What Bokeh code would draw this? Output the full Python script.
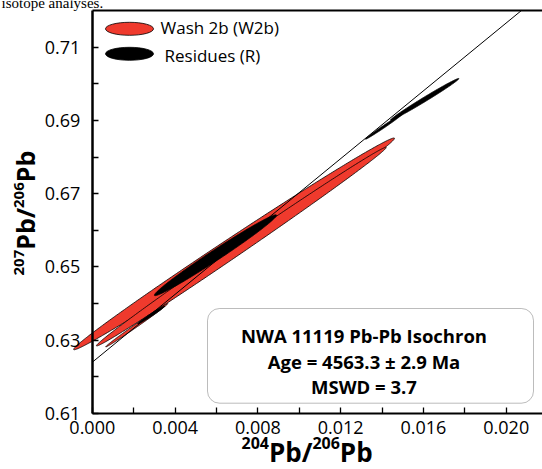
import numpy as np
from bokeh.plotting import figure
from bokeh.models import (LinearAxis, FixedTicker, PrintfTickFormatter, Label,
                          BoxAnnotation, Range1d)
from bokeh.embed import file_html
from bokeh.resources import INLINE

# ---------------- data ----------------
x_ticks = [0.000, 0.004, 0.008, 0.012, 0.016, 0.020]
x_minor = [0.002, 0.006, 0.010, 0.014, 0.018]
y_ticks = [0.61, 0.63, 0.65, 0.67, 0.69, 0.71]
y_minor = [0.62, 0.64, 0.66, 0.68, 0.70]
x_axis_min, y_axis_min, y_axis_max = 0.0, 0.61, 0.72

# Wash 2b (W2b) error ellipses: centre, sigma x, sigma y, correlation
wash_x0 = [0.00685, 0.00720, 0.00215]
wash_y0 = [0.6563, 0.65555, 0.6341]
wash_sx = [0.00775, 0.00700, 0.00150]
wash_sy = [0.02890, 0.02711, 0.00592]
wash_rho = [0.99654, 0.99779, 0.9964]

# Residues (R) error ellipses
res_x0 = [0.00595, 0.00600, 0.00285, 0.01410, 0.01606]
res_y0 = [0.6532, 0.65325, 0.6369, 0.68835, 0.69575]
res_sx = [0.00295, 0.00250, 0.00065, 0.00090, 0.00165]
res_sy = [0.01103, 0.009276, 0.002433, 0.003473, 0.005693]
res_rho = [0.98804, 0.99716, 0.9864, 0.9934, 0.9924]

# isochron fit
iso_intercept = 0.624
iso_slope = 4.63

legend_names = ["Wash 2b (W2b)", "Residues (R)"]
box_lines = ["NWA 11119 Pb-Pb Isochron", "Age = 4563.3 \u00b1 2.9 Ma", "MSWD = 3.7"]
caption_fragment = "isotope analyses."

# ---------------- layout (page pixels) ----------------
PW, PH = 542, 469          # page size
OFF = 0                    # page position of canvas origin
PX0, KX = 91.8, 20697.0    # page x of x=0, px per x unit
PYT, KY = 10.0, 3663.6     # page y of y=0.72, px per y unit
XMIN, XMAX = (OFF - PX0) / KX, (PW - PX0) / KX
YMAX, YMIN = y_axis_max + (PYT - OFF) / KY, y_axis_max - (PH - PYT) / KY
RED = "#EF3A2D"
FONT = "Open Sans"


def dx(px):
    return (px - PX0) / KX


def dy(py):
    return y_axis_max - (py - PYT) / KY


p = figure(width=PW - OFF, height=PH - OFF, x_range=Range1d(XMIN, XMAX),
           y_range=Range1d(YMIN, YMAX), output_backend="svg", toolbar_location=None,
           min_border=0, outline_line_color=None,
           background_fill_color="white", border_fill_color="white")
p.xgrid.visible = False
p.ygrid.visible = False

ya = p.yaxis[0]
ya.fixed_location = x_axis_min
ya.bounds = (y_axis_min, y_axis_max)
ya.ticker = FixedTicker(ticks=y_ticks, minor_ticks=y_minor)
xa = p.xaxis[0]
xa.fixed_location = y_axis_min
xa.bounds = (x_axis_min, XMAX)
xa.ticker = FixedTicker(ticks=x_ticks, minor_ticks=x_minor)
xa.formatter = PrintfTickFormatter(format="%.3f")
for ax, lw in ((ya, 2.5), (xa, 2)):
    ax.axis_line_width = lw
    ax.axis_line_color = "black"
    ax.major_tick_in = 6
    ax.major_tick_out = 0
    ax.minor_tick_in = 6
    ax.minor_tick_out = 0
    ax.major_tick_line_width = 1.3
    ax.minor_tick_line_width = 1.3
    ax.major_tick_line_color = "black"
    ax.minor_tick_line_color = "black"
    ax.major_label_text_font = FONT
    ax.major_label_text_font_size = "18px"
    ax.major_label_text_color = "black"
ya.major_label_standoff = 12
xa.major_label_standoff = 8

top = LinearAxis(fixed_location=y_axis_max, bounds=(x_axis_min, XMAX),
                 ticker=FixedTicker(ticks=[]), axis_line_width=2, axis_line_color="black",
                 major_tick_line_color=None, minor_tick_line_color=None,
                 major_label_text_font_size="0px")
p.add_layout(top, "above")

# ---------------- ellipses ----------------
t = np.linspace(0, 2 * np.pi, 361)


def ellipse_xy(x0, y0, sx, sy, rho):
    xs = x0 + sx * np.cos(t)
    ys = y0 + sy * (rho * np.cos(t) + np.sqrt(1 - rho ** 2) * np.sin(t))
    return list(xs), list(ys)


wxs, wys = zip(*[ellipse_xy(*a) for a in zip(wash_x0, wash_y0, wash_sx, wash_sy, wash_rho)])
rxs, rys = zip(*[ellipse_xy(*a) for a in zip(res_x0, res_y0, res_sx, res_sy, res_rho)])
p.patches(xs=list(wxs), ys=list(wys), fill_color=RED, line_color="black", line_width=0.8)
p.patches(xs=list(rxs), ys=list(rys), fill_color="black", line_color="black", line_width=0.8)

# isochron, from the y axis up to the top border
x_end = (y_axis_max - iso_intercept) / iso_slope
p.line(x=[x_axis_min, x_end], y=[iso_intercept + iso_slope * x_axis_min, y_axis_max],
       line_color="black", line_width=1)

# ---------------- legend ----------------
p.ellipse(x=[dx(129), dx(129)], y=[dy(28.3), dy(53.3)], width=48, height=13,
          width_units="screen", height_units="screen",
          fill_color=[RED, "black"], line_color="black", line_width=0.8)
for name, lx, ly in zip(legend_names, [160, 164], [26.5, 54.5]):
    p.add_layout(Label(x=dx(lx), y=dy(ly), text=name, text_font=FONT,
                       text_font_size="17px", text_color="black",
                       text_align="left", text_baseline="middle"))

# ---------------- result box ----------------
p.add_layout(BoxAnnotation(left=dx(207), right=dx(533), top=dy(308), bottom=dy(402.7),
                           border_radius=12, fill_color="white", fill_alpha=1,
                           line_color="#222222", line_width=1))
for txt, yc in zip(box_lines, [335, 361, 386]):
    p.add_layout(Label(x=dx(363.5), y=dy(yc), text=txt, text_align="center",
                       text_baseline="middle", text_font=FONT,
                       text_font_style="bold", text_font_size="18.5px",
                       text_color="black"))


# ---------------- axis titles with superscripts ----------------
def bold(txt, x, y, size, angle=0.0):
    p.add_layout(Label(x=dx(x), y=dy(y), text=txt, text_align="left",
                       text_baseline="middle", text_font=FONT,
                       text_font_style="bold", text_font_size=f"{size}px",
                       text_color="black", angle=angle))


# x title: 204Pb/206Pb
sup, main = 16, 26
wsup, wpbs = 3 * 0.572 * sup, 1.671 * main
x0 = 241
bold("204", x0, 442, sup)
bold("Pb/", x0 + wsup, 451, main)
bold("206", x0 + wsup + wpbs, 442, sup)
bold("Pb", x0 + 2 * wsup + wpbs, 451, main)

# y title: 207Pb/206Pb (rotated)
sup, main = 15, 25
wsup, wpbs = 3 * 0.572 * sup, 1.671 * main
y0 = 275
bold("207", 18.5, y0, sup, np.pi / 2)
bold("Pb/", 24, y0 - wsup, main, np.pi / 2)
bold("206", 18.5, y0 - wsup - wpbs, sup, np.pi / 2)
bold("Pb", 24, y0 - 2 * wsup - wpbs, main, np.pi / 2)

# cut-off caption fragment above the chart
p.add_layout(Label(x=dx(1), y=dy(2), text=caption_fragment, text_align="left",
                   text_baseline="middle", text_font="Liberation Serif",
                   text_font_size="15px", text_color="black"))

open("out.html", "w").write(file_html(p, INLINE))
